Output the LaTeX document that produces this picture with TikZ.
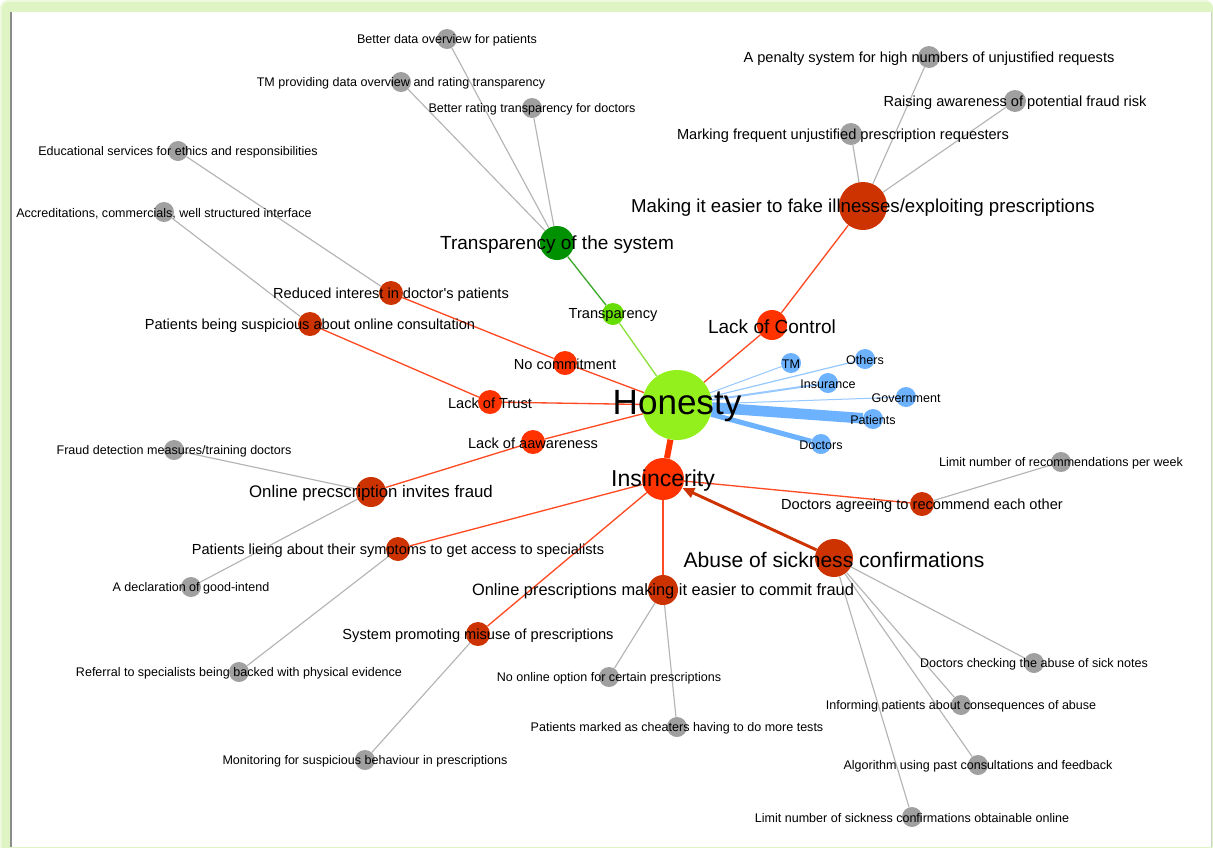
\documentclass[tikz,border=0pt]{standalone}
\usepackage{fontspec}
\setmainfont{Liberation Sans}
\usetikzlibrary{arrows.meta}

% palette
\definecolor{honC}{RGB}{148,240,28}
\definecolor{redA}{RGB}{255,51,0}
\definecolor{redB}{RGB}{204,51,0}
\definecolor{grnD}{RGB}{0,145,0}
\definecolor{grnL}{RGB}{102,221,0}
\definecolor{bluN}{RGB}{108,178,255}
\definecolor{bluE}{RGB}{150,200,255}
\definecolor{gryN}{RGB}{160,160,160}
\definecolor{gryE}{RGB}{180,180,180}
\definecolor{redE}{RGB}{255,75,35}
\definecolor{grnE}{RGB}{60,170,40}
\definecolor{grnF}{RGB}{140,225,60}
\definecolor{glow}{RGB}{222,244,195}
\definecolor{glowB}{RGB}{236,249,220}
\definecolor{panelL}{RGB}{140,140,140}
\definecolor{panelR}{RGB}{205,205,205}

\pgfdeclarelayer{frame}
\pgfdeclarelayer{edges}
\pgfsetlayers{frame,edges,main}

\tikzset{
  dot/.style={circle,inner sep=0pt,minimum size=1.5pt*#1},
  lbl/.style={inner sep=0pt,text=black,yshift=-1.1pt},
  fA/.style={font=\fontsize{9.4}{11}\selectfont},
  fB/.style={font=\fontsize{10.95}{13}\selectfont},
  fC/.style={font=\fontsize{12.3}{14}\selectfont},
  fD/.style={font=\fontsize{12.6}{15}\selectfont},
  fE/.style={font=\fontsize{14}{16}\selectfont},
  fF/.style={font=\fontsize{14.25}{17}\selectfont},
  fG/.style={font=\fontsize{15.8}{19}\selectfont},
  fH/.style={font=\fontsize{17.25}{20}\selectfont},
  fI/.style={font=\fontsize{26.3}{30}\selectfont},
  redge/.style={draw=redE,line width=1pt},
  gedge/.style={draw=gryE,line width=0.85pt},
  bedge/.style={draw=bluE,line width=#1},
}

\begin{document}
\begin{tikzpicture}[x=0.75pt,y=-0.75pt]
\useasboundingbox (0,0) rectangle (1213,847);

% window frame
\begin{pgfonlayer}{frame}
  \fill[white] (0,0) rectangle (1213,847);
  \fill[glowB,rounded corners=6] (0,0) rectangle (1213,860);
  \fill[glow,rounded corners=5] (2,2) rectangle (1213,860);
  \fill[white] (11,12) rectangle (1211,847);
  \draw[panelL,line width=1.5pt] (11,12) -- (11,847);
  \draw[panelR,line width=0.75pt] (1211,12) -- (1211,847);
\end{pgfonlayer}

% ---- vertices ----
\node[dot=35,fill=honC] (hon) at (677,405) {};
\node[dot=21,fill=redA] (ins) at (663,479) {};
\node[dot=19,fill=redB] (abu) at (834,558) {};
\node[dot=24,fill=redB] (mak) at (863,206) {};
\node[dot=15,fill=redA] (loc) at (772,325) {};
\node[dot=17,fill=grnD] (tos) at (557,243) {};
\node[dot=11,fill=grnL] (tra) at (613,314) {};
\node[dot=12,fill=redA] (noc) at (565,363) {};
\node[dot=12,fill=redA] (lot) at (490,402) {};
\node[dot=12,fill=redA] (loa) at (533,442) {};
\node[dot=12,fill=redB] (rid) at (391,293) {};
\node[dot=12,fill=redB] (pbs) at (310,324) {};
\node[dot=15,fill=redB] (opi) at (371,492) {};
\node[dot=12,fill=redB] (pli) at (398,549) {};
\node[dot=12,fill=redB] (spm) at (478,634) {};
\node[dot=15,fill=redB] (ope) at (663,590) {};
\node[dot=12,fill=redB] (dar) at (922,504) {};

\node[dot=10,fill=gryN] (g1)  at (447,39)  {};
\node[dot=10,fill=gryN] (g2)  at (401,82)  {};
\node[dot=10,fill=gryN] (g3)  at (532,108) {};
\node[dot=10,fill=gryN] (g4)  at (178,151) {};
\node[dot=10,fill=gryN] (g5)  at (164,212) {};
\node[dot=11,fill=gryN] (g6)  at (929,57)  {};
\node[dot=11,fill=gryN] (g7)  at (1015,101) {};
\node[dot=11,fill=gryN] (g8)  at (851,134) {};
\node[dot=10,fill=gryN] (g9)  at (174,450) {};
\node[dot=10,fill=gryN] (g10) at (191,587) {};
\node[dot=10,fill=gryN] (g11) at (239,672) {};
\node[dot=10,fill=gryN] (g12) at (365,760) {};
\node[dot=10,fill=gryN] (g13) at (609,677) {};
\node[dot=10,fill=gryN] (g14) at (677,727) {};
\node[dot=10,fill=gryN] (g15) at (1061,462) {};
\node[dot=10,fill=gryN] (g16) at (1034,663) {};
\node[dot=10,fill=gryN] (g17) at (961,705) {};
\node[dot=10,fill=gryN] (g18) at (978,765) {};
\node[dot=10,fill=gryN] (g19) at (912,817) {};

\node[dot=10,fill=bluN] (bTM)  at (791,363) {};
\node[dot=10,fill=bluN] (bOth) at (865,359) {};
\node[dot=10,fill=bluN] (bIns) at (828,383) {};
\node[dot=10,fill=bluN] (bGov) at (906,397) {};
\node[dot=10,fill=bluN] (bPat) at (873,419) {};
\node[dot=10,fill=bluN] (bDoc) at (821,444) {};

% ---- connectors ----
\begin{pgfonlayer}{edges}
  \draw[redA,line width=4.5pt] (hon) -- (ins);
  \draw[redge] (hon) -- (loc);
  \draw[redge] (hon) -- (noc);
  \draw[redge] (hon) -- (lot);
  \draw[redge] (hon) -- (loa);
  \draw[draw=grnF,line width=1pt] (hon) -- (tra);
  \draw[draw=grnE,line width=1pt] (tra) -- (tos);
  \draw[bedge=0.75pt] (hon) -- (bTM);
  \draw[bedge=0.9pt] (hon) -- (bOth);
  \draw[bedge=1.5pt] (hon) -- (bIns);
  \draw[bedge=0.75pt] (hon) -- (bGov);
  \draw[draw=bluN,line width=8pt] (hon) -- (bPat);
  \draw[draw=bluN,line width=3.8pt] (hon) -- (bDoc);

  \draw[gedge] (tos) -- (g1);
  \draw[gedge] (tos) -- (g2);
  \draw[gedge] (tos) -- (g3);
  \draw[redge] (loc) -- (mak);
  \draw[gedge] (mak) -- (g6);
  \draw[gedge] (mak) -- (g7);
  \draw[gedge] (mak) -- (g8);
  \draw[redge] (noc) -- (rid);
  \draw[gedge] (rid) -- (g4);
  \draw[redge] (lot) -- (pbs);
  \draw[gedge] (pbs) -- (g5);
  \draw[redge] (loa) -- (opi);
  \draw[gedge] (opi) -- (g9);
  \draw[gedge] (opi) -- (g10);

  \draw[redge] (ins) -- (pli);
  \draw[gedge] (pli) -- (g11);
  \draw[redge] (ins) -- (spm);
  \draw[gedge] (spm) -- (g12);
  \draw[redge] (ins) -- (ope);
  \draw[gedge] (ope) -- (g13);
  \draw[gedge] (ope) -- (g14);
  \draw[redge] (ins) -- (dar);
  \draw[gedge] (dar) -- (g15);
  \draw[redB,line width=2.2pt,-{Triangle[length=9pt,width=7.5pt]}] (abu) -- (ins);
  \draw[gedge] (abu) -- (g16);
  \draw[gedge] (abu) -- (g17);
  \draw[gedge] (abu) -- (g18);
  \draw[gedge] (abu) -- (g19);
\end{pgfonlayer}

% ---- labels ----
\node[lbl,fI] (hon-l) at (hon) {Honesty};
\node[lbl,fH] (ins-l) at (ins) {Insincerity};
\node[lbl,fG] (abu-l) at (abu) {Abuse of sickness confirmations};
\node[lbl,fE] (mak-l) at (mak) {Making it easier to fake illnesses/exploiting prescriptions};
\node[lbl,fF] (loc-l) at (loc) {Lack of Control};
\node[lbl,fF] (tos-l) at (tos) {Transparency of the system};
\node[lbl,fB] (tra-l) at (tra) {Transparency};
\node[lbl,fB] (noc-l) at (noc) {No commitment};
\node[lbl,fB] (lot-l) at (lot) {Lack of Trust};
\node[lbl,fB] (loa-l) at (loa) {Lack of aawareness};
\node[lbl,fB] (rid-l) at (rid) {Reduced interest in doctor\textquotesingle s patients};
\node[lbl,fB] (pbs-l) at (pbs) {Patients being suspicious about online consultation};
\node[lbl,fD] (opi-l) at (opi) {Online precscription invites fraud};
\node[lbl,fB] (pli-l) at (pli) {Patients lieing about their symptoms to get access to specialists};
\node[lbl,fB] (spm-l) at (spm) {System promoting misuse of prescriptions};
\node[lbl,fC] (ope-l) at (ope) {Online prescriptions making it easier to commit fraud};
\node[lbl,fB] (dar-l) at (dar) {Doctors agreeing to recommend each other};

\node[lbl,fA] (g1-l)  at (g1)  {Better data overview for patients};
\node[lbl,fA] (g2-l)  at (g2)  {TM providing data overview and rating transparency};
\node[lbl,fA] (g3-l)  at (g3)  {Better rating transparency for doctors};
\node[lbl,fA] (g4-l)  at (g4)  {Educational services for ethics and responsibilities};
\node[lbl,fA] (g5-l)  at (g5)  {Accreditations, commercials, well structured interface};
\node[lbl,fB] (g6-l)  at (g6)  {A penalty system for high numbers of unjustified requests};
\node[lbl,fB] (g7-l)  at (g7)  {Raising awareness of potential fraud risk};
\node[lbl,fB] (g8-l)  at ([xshift=-6pt]g8.center) {Marking frequent unjustified prescription requesters};
\node[lbl,fA] (g9-l)  at (g9)  {Fraud detection measures/training doctors};
\node[lbl,fA] (g10-l) at (g10) {A declaration of good-intend};
\node[lbl,fA] (g11-l) at (g11) {Referral to specialists being backed with physical evidence};
\node[lbl,fA] (g12-l) at (g12) {Monitoring for suspicious behaviour in prescriptions};
\node[lbl,fA] (g13-l) at (g13) {No online option for certain prescriptions};
\node[lbl,fA] (g14-l) at (g14) {Patients marked as cheaters having to do more tests};
\node[lbl,fA] (g15-l) at (g15) {Limit number of recommendations per week};
\node[lbl,fA] (g16-l) at (g16) {Doctors checking the abuse of sick notes};
\node[lbl,fA] (g17-l) at (g17) {Informing patients about consequences of abuse};
\node[lbl,fA] (g18-l) at (g18) {Algorithm using past consultations and feedback};
\node[lbl,fA] (g19-l) at (g19) {Limit number of sickness confirmations obtainable online};

\node[lbl,fA] (bTM-l)  at (bTM)  {TM};
\node[lbl,fA] (bOth-l) at (bOth) {Others};
\node[lbl,fA] (bIns-l) at (bIns) {Insurance};
\node[lbl,fA] (bGov-l) at (bGov) {Government};
\node[lbl,fA] (bPat-l) at (bPat) {Patients};
\node[lbl,fA] (bDoc-l) at (bDoc) {Doctors};
\end{tikzpicture}
\end{document}
